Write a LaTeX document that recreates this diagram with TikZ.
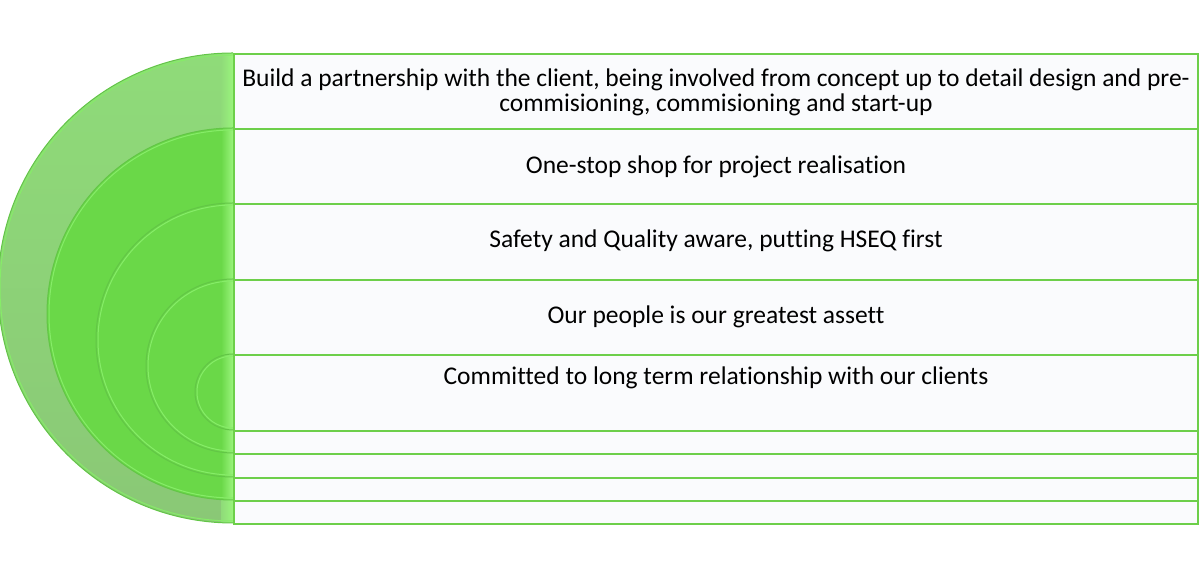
\documentclass[tikz,border=0pt]{standalone}
\usepackage{fontspec}
\setmainfont{Carlito}[Ligatures=NoCommon]
\usetikzlibrary{positioning}

\definecolor{ringout}{HTML}{8FDB79}
\definecolor{ringlow}{HTML}{8AC876}
\definecolor{ringin}{HTML}{6AD848}
\definecolor{ringhi}{HTML}{9AF47C}
\definecolor{ringrim}{HTML}{86EC68}
\definecolor{ringshade}{HTML}{62C646}
\definecolor{boxedge}{HTML}{6DCF4A}
\definecolor{boxfill}{HTML}{FAFBFD}

\tikzset{
  rowbox/.style={draw=boxedge, line width=2bp, fill=boxfill, minimum width=964bp,
    inner sep=0pt, anchor=north west},
  lbl/.style={font=\fontsize{25.5bp}{25bp}\selectfont, align=center, inner sep=0pt}
}

\begin{document}
\begin{tikzpicture}[x=1bp,y=1bp]
  \useasboundingbox (0,0) rectangle (1204,577);
  % parameters
  \def\cx{233}       % common edge of the half discs

  % nested half discs, largest first (centre height / radius)
  \foreach \cy/\r [count=\k] in {289/235, 263/186, 237/137, 211/87, 185/38} {
    \ifnum\k=1 \def\base{ringout}\else \def\base{ringin}\fi
    \begin{scope}
      \clip (\cx,\cy+\r) arc[start angle=90, end angle=270, radius=\r] -- cycle;
      \ifnum\k=1
        \shade[top color=ringout, middle color=ringout, bottom color=ringlow]
          (\cx-\r,\cy-\r) rectangle (\cx,\cy+\r);
      \else
        \fill[\base] (\cx-\r,\cy-\r) rectangle (\cx,\cy+\r);
      \fi
      \shade[left color=\base, right color=ringhi] (\cx-12,\cy-\r) rectangle (\cx,\cy+\r);
    \end{scope}
    \draw[ringshade, line width=1bp] (\cx,\cy+\r) arc[start angle=90, end angle=270, radius=\r];
    \draw[ringrim, line width=1bp] (\cx,\cy+\r-2) arc[start angle=90, end angle=270, radius=\r-2];
  }

  % rows (top / bottom)
  \foreach \top/\bot [count=\i] in {524/449, 449/374, 374/298, 298/223, 223/147,
                                    147/124, 124/100, 100/77, 77/54} {
    \pgfmathsetmacro{\h}{\top-\bot}
    \node[rowbox, minimum height=\h bp] (row\i) at (\cx,\top) {};
  }

  % texts
  \node[lbl] (txt1) at ([yshift=-1bp]row1.center)
    {Build a partnership with the client, being involved from concept up to detail design and pre-\\commisioning, commisioning and start-up};
  \node[lbl, anchor=base] (txt2) at ([yshift=-45.5bp]row2.north) {One-stop shop for project realisation};
  \node[lbl, anchor=base] (txt3) at ([yshift=-45bp]row3.north) {Safety and Quality aware, putting HSEQ first};
  \node[lbl, anchor=base] (txt4) at ([yshift=-44.5bp]row4.north) {Our people is our greatest assett};
  \node[lbl, anchor=base] (txt5) at ([yshift=-30.5bp]row5.north) {Committed to long term relationship with our clients};
\end{tikzpicture}
\end{document}
